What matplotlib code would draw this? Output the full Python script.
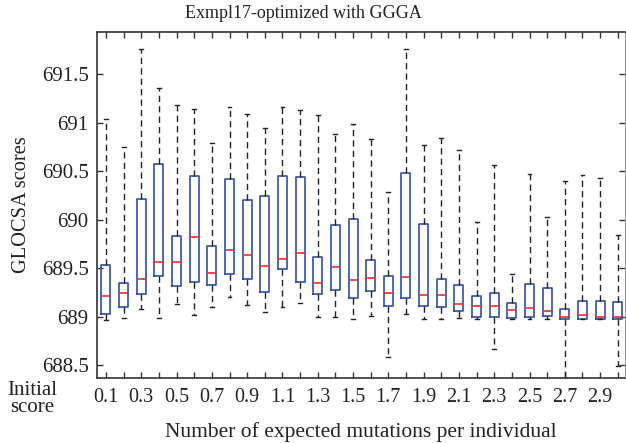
import matplotlib
matplotlib.use("Agg")
import matplotlib.pyplot as plt

# Data
rates = [round(0.1 * i, 1) for i in range(1, 31)]
whishi = [691.04, 690.75, 691.76, 691.36, 691.18, 691.14, 690.79, 691.16, 691.09, 690.94,
          691.16, 691.13, 691.08, 690.88, 690.98, 690.83, 690.28, 691.76, 690.77, 690.84,
          690.72, 689.97, 690.56, 689.44, 690.47, 690.03, 690.40, 690.46, 690.43, 689.84]
q3 = [689.53, 689.35, 690.21, 690.57, 689.83, 690.45, 689.73, 690.42, 690.20, 690.24,
      690.45, 690.44, 689.61, 689.94, 690.01, 689.58, 689.42, 690.48, 689.95, 689.39,
      689.32, 689.21, 689.24, 689.14, 689.33, 689.29, 689.08, 689.16, 689.16, 689.15]
med = [689.21, 689.24, 689.39, 689.56, 689.56, 689.82, 689.45, 689.69, 689.63, 689.52,
       689.59, 689.65, 689.35, 689.51, 689.38, 689.40, 689.24, 689.41, 689.22, 689.22,
       689.13, 689.11, 689.11, 689.07, 689.09, 689.06, 688.99, 689.02, 688.99, 689.00]
q1 = [689.03, 689.10, 689.23, 689.42, 689.31, 689.36, 689.32, 689.44, 689.39, 689.25,
      689.49, 689.36, 689.23, 689.27, 689.19, 689.26, 689.11, 689.19, 689.11, 689.10,
      689.06, 689.00, 688.99, 688.98, 689.00, 689.01, 688.97, 688.97, 688.97, 688.97]
whislo = [688.96, 688.98, 689.08, 688.98, 689.13, 689.02, 689.10, 689.20, 689.12, 689.05,
          689.10, 689.14, 688.99, 689.00, 688.97, 689.01, 688.58, 689.03, 688.97, 688.97,
          688.98, 688.97, 688.67, 688.97, 688.97, 688.97, 688.37, 688.97, 688.97, 688.49]
tick_labels = [f"{r:.1f}" if i % 2 == 0 else "" for i, r in enumerate(rates)]
yticks = [688.5, 689, 689.5, 690, 690.5, 691, 691.5]
ytick_labels = ['688.5', '689', '689.5', '690', '690.5', '691', '691.5']

plt.rcParams['font.family'] = ['Liberation Serif', 'DejaVu Serif']
fig = plt.figure(figsize=(6.26, 4.44), dpi=100)
ax = fig.add_axes([97 / 626, 66 / 444, (625.5 - 97) / 626, (378 - 32) / 444])

stats = [dict(whislo=a, q1=b, med=c, q3=d, whishi=e, fliers=[])
         for a, b, c, d, e in zip(whislo, q1, med, q3, whishi)]
ax.bxp(stats, positions=rates, widths=0.051, showfliers=False, manage_ticks=False,
       boxprops=dict(color='#2d4fa6', linewidth=1.2),
       medianprops=dict(color='#ff2a2a', linewidth=1.2),
       whiskerprops=dict(color='#222222', linewidth=1.0, linestyle=(0, (4.5, 3))),
       capprops=dict(color='#222222', linewidth=1.0),
       capwidths=0.022)

ax.set_xlim(0.049, 3.044)
ax.set_ylim(688.366, 691.933)
ax.set_yticks(yticks)
ax.set_yticklabels(ytick_labels)
ax.set_xticks(rates)
ax.set_xticklabels(tick_labels)
ax.tick_params(direction='in', length=4.5, width=1.0, top=True, right=True,
               colors='#333333', labelcolor='#222222')
ax.tick_params(axis='y', labelsize=15, pad=6)
ax.tick_params(axis='x', labelsize=14.5, pad=7)
for s in ['left', 'bottom', 'top']:
    ax.spines[s].set_color('#333333')
    ax.spines[s].set_linewidth(1.2)
ax.spines['right'].set_color('#999999')

fig.text(303 / 626, 1 - 14 / 444, 'Exmpl17-optimized with GGGA', fontsize=13,
         color='#222222', ha='center', va='center')
ax.set_xlabel('Number of expected mutations per individual', fontsize=15.5,
              color='#222222', labelpad=11)
ax.set_ylabel('GLOCSA scores', fontsize=14.7, color='#222222', labelpad=8)
fig.text(32 / 626, 1 - 399 / 444, 'Initial\nscore', fontsize=15, color='#222222',
         ha='center', va='center', linespacing=0.8)

fig.savefig('out.png', dpi=100)
